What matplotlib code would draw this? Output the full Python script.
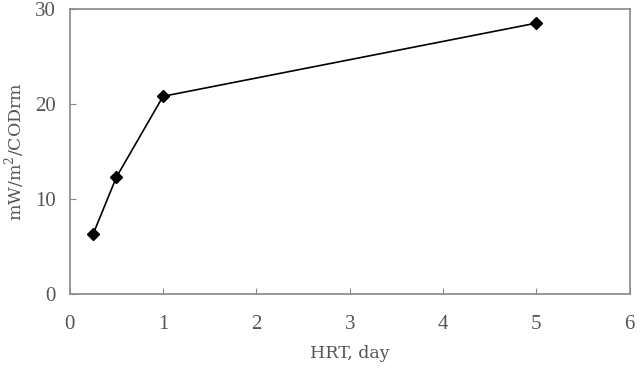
import matplotlib
matplotlib.use('Agg')
import matplotlib.pyplot as plt

# HRT (day) vs power density
hrt = [0.25, 0.5, 1, 5]
power = [6.3, 12.3, 20.8, 28.5]
xticks = [0, 1, 2, 3, 4, 5, 6]
yticks = [0, 10, 20, 30]

plt.rcParams['font.family'] = ['Liberation Serif', 'DejaVu Serif']
plt.rcParams['mathtext.fontset'] = 'custom'
plt.rcParams['mathtext.rm'] = 'DejaVu Serif'

fig = plt.figure(figsize=(6.4, 3.68), dpi=100)
ax = fig.add_axes([0.109, 0.201, 0.875, 0.775])

ax.plot(hrt, power, color='black', lw=1.2, marker='D', ms=6, mfc='black', mec='black')

ax.set_xlim(0, 6)
ax.set_ylim(0, 30)
ax.set_xticks(xticks)
ax.set_yticks(yticks)
ax.tick_params(direction='in', length=4, color='#888888', labelcolor='#555555', labelsize=15)
ax.tick_params(axis='x', pad=15)
ax.tick_params(axis='y', pad=10)
for s in ax.spines.values():
    s.set_color('#888888')
    s.set_linewidth(1.2)

ax.set_xlabel('HRT, day', fontsize=12.5, family='DejaVu Serif', color='#555555', labelpad=8)
ax.set_ylabel('mW/m$^2$/CODrm', fontsize=12.5, family='DejaVu Serif', color='#555555', labelpad=6)

fig.savefig('out.png', dpi=100)
